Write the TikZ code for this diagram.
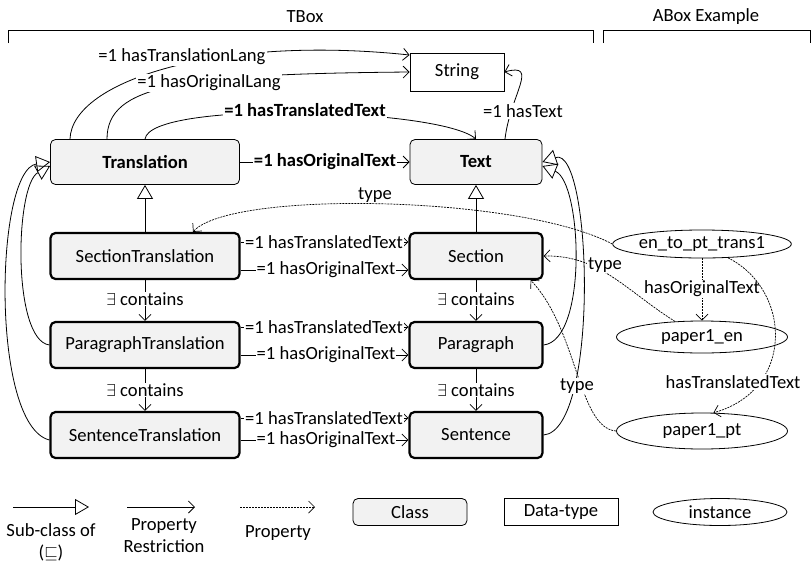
\documentclass[tikz,border=0pt]{standalone}
\usepackage{fontspec}
\usepackage{amssymb}
\setmainfont{Carlito}
\usetikzlibrary{arrows.meta,shapes.geometric}
\definecolor{clsgray}{HTML}{F2F2F2}
\tikzset{
  every node/.style={font=\fontsize{18.6}{22}\selectfont},
  cls/.style={draw, fill=clsgray, rounded corners=5pt, line width=0.8pt, inner sep=0pt},
  clsT/.style={cls, line width=2.2pt, minimum width=189pt, minimum height=46pt},
  clsR/.style={cls, line width=2.2pt, minimum width=133pt, minimum height=46pt},
  dtype/.style={draw, line width=0.8pt, inner sep=0pt},
  inst/.style={draw, ellipse, line width=0.8pt, inner sep=0pt, minimum width=171pt},
  lbl/.style={fill=white, inner sep=1pt},
  prop/.style={line width=0.8pt, -{Straight Barb[length=6pt,width=12pt]}},
  dprop/.style={line width=0.7pt, dash pattern=on 2pt off 1pt, -{Straight Barb[length=6pt,width=12pt]}},
  sub/.style={line width=0.8pt, -{Triangle[open,length=14pt,width=16pt]}},
}
\begin{document}
\begin{tikzpicture}[x=1pt,y=-1pt]
\useasboundingbox (0,0) rectangle (811,563);
% headers
\node (tbox) at (305,17) {TBox};
\node (abox) at (706,17) {ABox Example};
\draw[line width=0.8pt] (8,43) -- (8,30) -- (593,30) -- (593,43);
\draw[line width=0.8pt] (603,43) -- (603,30) -- (810,30) -- (810,43);
% classes
\node[cls, minimum width=189pt, minimum height=45pt] (tr) at (145,162) {\textbf{Translation}};
\node[cls, minimum width=132pt, minimum height=45pt] (tx) at (476,162) {\textbf{Text}};
\node[dtype, minimum width=94pt, minimum height=38pt] (str) at (457,72) {String};
\node[clsT] (st) at (145,256) {SectionTranslation};
\node[clsT] (pt) at (145,345) {ParagraphTranslation};
\node[clsT] (snt) at (145,435) {SentenceTranslation};
\node[clsR] (sec) at (476,256) {Section};
\node[clsR] (par) at (476,345) {Paragraph};
\node[clsR] (sen) at (476,435) {Sentence};
% instances
\node[inst, minimum height=28pt] (en) at (702,244) {en\_to\_pt\_trans1};
\node[inst, minimum height=32pt] (p1en) at (702,337) {paper1\_en};
\node[inst, minimum height=36pt] (p1pt) at (702,431) {paper1\_pt};
% Translation -> String
\draw[prop] ([xshift=-75pt]tr.north) .. controls (72,80) and (220,35) .. ([yshift=17pt]str.west);
\node[lbl] (lTL) at (182,57) {=1 hasTranslationLang};
\draw[prop] ([xshift=-38pt]tr.north) .. controls (107,85) and (180,74) .. (str.west);
\node[lbl] (lOL) at (209,83) {=1 hasOriginalLang};
% Translation -> Text
\draw[prop] (tr.north) .. controls (150,100) and (440,108) .. (tx.north);
\node[lbl] (lTT) at (305,110) {\textbf{=1 hasTranslatedText}};
\draw[prop] (tr.east) -- (tx.west);
\node[lbl] (lOT) at (325,162) {\textbf{=1 hasOriginalText}};
% Text -> String
\draw[prop] ([xshift=29pt]tx.north) .. controls (510,95) and (540,62) .. (str.east);
\node[lbl] (lHT) at (523,111) {=1 hasText};
% subclass
\draw[sub] (st.north) -- (tr.south);
\draw[sub] (sec.north) -- (tx.south);
\draw[sub] (pt.west) .. controls (12,340) and (15,185) .. ([yshift=-4pt]tr.west);
\draw[sub] ([yshift=-5pt]snt.west) .. controls (-10,425) and (-5,170) .. ([yshift=0pt]tr.west);
\draw[sub] (par.east) .. controls (588,340) and (582,182) .. ([yshift=-4pt]tx.east);
\draw[sub] (sen.east) .. controls (600,430) and (592,145) .. ([yshift=0pt]tx.east);
% property restrictions between rows
\draw[prop] ([yshift=14pt]st.east) -- ([yshift=14pt]sec.west);
\node[lbl] (l1t) at (324,242) {=1 hasTranslatedText};
\draw[prop] ([yshift=-14pt]st.east) -- ([yshift=-14pt]sec.west);
\node[lbl] (l1o) at (326,270) {=1 hasOriginalText};
\draw[prop] ([yshift=18pt]pt.east) -- ([yshift=18pt]par.west);
\node[lbl] (l2t) at (324,327) {=1 hasTranslatedText};
\draw[prop] ([yshift=-10pt]pt.east) -- ([yshift=-10pt]par.west);
\node[lbl] (l2o) at (326,355) {=1 hasOriginalText};
\draw[prop] ([yshift=17pt]snt.east) -- ([yshift=17pt]sen.west);
\node[lbl] (l3t) at (324,418) {=1 hasTranslatedText};
\draw[prop] ([yshift=-5pt]snt.east) -- ([yshift=-5pt]sen.west);
\node[lbl] (l3o) at (326,440) {=1 hasOriginalText};
% contains
\draw[prop] (st.south) -- (pt.north);
\node[lbl] (c1) at (145,299) {$\exists$ contains};
\draw[prop] (pt.south) -- (snt.north);
\node[lbl] (c2) at (145,390) {$\exists$ contains};
\draw[prop] (sec.south) -- (par.north);
\node[lbl] (c3) at (476,299) {$\exists$ contains};
\draw[prop] (par.south) -- (sen.north);
\node[lbl] (c4) at (476,390) {$\exists$ contains};
% ABox property links
\draw[dprop] (en.west) .. controls (520,195) and (230,190) .. ([xshift=48pt]st.north);
\node[lbl] (ty1) at (375,195) {type};
\draw[dprop] (p1en.150) .. controls (625,290) and (600,255) .. (sec.east);
\node[lbl] (ty2) at (605,265) {type};
\draw[dprop] (p1pt.west) .. controls (578,428) and (578,330) .. ([xshift=-13pt]sec.south east);
\node[lbl] (ty3) at (577,386) {type};
\draw[dprop] (en.south) -- (p1en.north);
\node[lbl] (hOT) at (702,289) {hasOriginalText};
\draw[dprop] (en.-28) .. controls (792,290) and (795,390) .. (p1pt.58);
\node[lbl] (hTT) at (733,382) {hasTranslatedText};
% legend
\coordinate (a1) at (13,507); \coordinate (b1) at (89,507);
\draw[sub] (a1) -- (b1);
\node[align=center, inner sep=0pt] (lg1) at (51,542) {Sub-class of\\($\sqsubseteq$)};
\coordinate (a2) at (127,507); \coordinate (b2) at (195,507);
\draw[prop] (a2) -- (b2);
\node[align=center, inner sep=0pt] (lg2) at (164,536) {Property\\Restriction};
\coordinate (a3) at (240,507); \coordinate (b3) at (315,507);
\draw[dprop] (a3) -- (b3);
\node (lg3) at (278,533) {Property};
\node[cls, minimum width=114pt, minimum height=27pt] (lgc) at (410,512) {Class};
\node[dtype, minimum width=114pt, minimum height=27pt] (lgd) at (561,512) {Data-type};
\node[inst, minimum width=134pt, minimum height=27pt] (lgi) at (720,512) {instance};
\end{tikzpicture}
\end{document}
